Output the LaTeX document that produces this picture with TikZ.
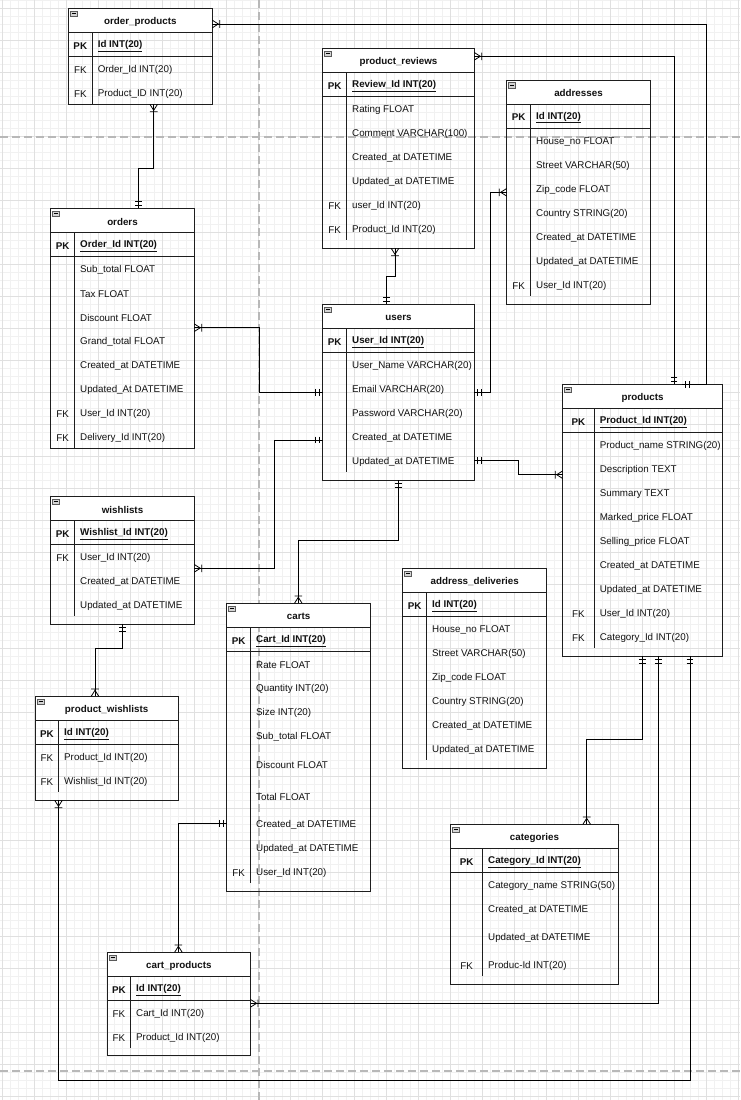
\documentclass[tikz,border=0pt]{standalone}
\usepackage{fontspec}
\setmainfont{Liberation Sans}
\usetikzlibrary{decorations.markings}

\definecolor{linec}{HTML}{1E1E1E}
\definecolor{txt}{HTML}{111111}
\definecolor{gminor}{HTML}{F1F1F1}
\definecolor{gmajor}{HTML}{E0E0E0}
\definecolor{pgline}{HTML}{B8B8B8}
\definecolor{iconfill}{HTML}{D4D4D4}
\definecolor{iconline}{HTML}{5A5A5A}

\tikzset{
  every node/.style={font=\fontsize{9.8}{11.5}\selectfont, text=txt},
  tbl/.style={draw=linec, line width=.8pt, inner sep=0pt, outer sep=0pt, anchor=north west},
  tline/.style={draw=linec, line width=.8pt},
  icon/.style={draw=iconline, fill=iconfill, line width=.5pt},
  ttl/.style={inner sep=0pt, anchor=center, yshift=-1pt},
  keyt/.style={inner sep=0pt, anchor=center, yshift=-1.5pt},
  fldt/.style={inner sep=0pt, anchor=west, yshift=-1.5pt},
  minorg/.style={draw=gminor, line width=.6pt},
  majorg/.style={draw=gmajor, line width=.8pt},
  pagebreak/.style={draw=pgline, line width=1.4pt, dash pattern=on 8pt off 4pt},
  % connector: mandatory-one bars at the start, one-to-many crow's foot at the end
  rel/.style={draw=black, line width=.8pt,
    postaction={decorate, decoration={markings,
      mark=at position 0 with {\draw[line width=.8pt] (3.2pt,-3.4pt) -- (3.2pt,3.4pt) (7.4pt,-3.4pt) -- (7.4pt,3.4pt);},
      mark=at position 1 with {\draw[line width=.8pt] (0pt,3.8pt) -- (-6pt,0pt) -- (0pt,-3.8pt) (-7.4pt,-3.8pt) -- (-7.4pt,3.8pt);}}}},
}

% #1 id, #2 left, #3 top, #4 right, #5 bottom, #6 divider x, #7 divider end, #8 title, #9 primary key
\newcommand\ertable[9]{%
  \fill[white] (#2,#3) rectangle (#4,#3+24);
  \node[tbl, minimum width={#4-#2}, minimum height={#5-#3}] (#1) at (#2,#3) {};
  \draw[tline] (#2,#3+24) -- (#4,#3+24) (#2,#3+48) -- (#4,#3+48) (#6,#3+24) -- (#6,#7);
  \draw[icon] (#2+2,#3+2.5) rectangle (#2+9,#3+8);
  \draw[line width=.7pt, black] (#2+3.5,#3+5.25) -- (#2+7.5,#3+5.25);
  \node[ttl] (#1-t) at ({(#2+#4)/2},#3+12.4) {\textbf{#8}};
  \node[keyt] (#1-pkk) at ({(#2+#6)/2},#3+36) {\textbf{PK}};
  \node[fldt] (#1-pk) at (#6+5.3,#3+36) {\underline{\textbf{#9}}};
}
% field row: #1 name, #2 divider x, #3 y, #4 text
\newcommand\errow[4]{\node[fldt] (#1) at (#2+5.3,#3) {#4};}
% key label: #1 name, #2 centre x, #3 y, #4 text
\newcommand\erkey[4]{\node[keyt] (#1) at (#2,#3) {#4};}

\begin{document}
\begin{tikzpicture}[x=1pt,y=-1pt]
\useasboundingbox (0,0) rectangle (740,1100);
\fill[white] (0,0) rectangle (740,1100);

% background grid
\foreach \i in {0,...,92} \draw[minorg] ({2+8*\i},0) -- ({2+8*\i},1100);
\foreach \j in {0,...,137} \draw[minorg] (0,{8*\j}) -- (740,{8*\j});
\foreach \i in {0,...,23} \draw[majorg] ({2+32*\i},0) -- ({2+32*\i},1100);
\foreach \j in {0,...,34} \draw[majorg] (0,{8+32*\j}) -- (740,{8+32*\j});

% page breaks
\draw[pagebreak] (0,137) -- (740,137);
\draw[pagebreak] (0,1071) -- (740,1071);
\draw[pagebreak] (259,0) -- (259,1100);

% order_products
\ertable{op}{68.3}{8.3}{212.3}{104.3}{92.3}{104.3}{order\_products}{Id INT(20)}
\erkey{op-k1}{80.3}{68.3}{FK}\errow{op-f1}{92.3}{68.3}{Order\_Id INT(20)}
\erkey{op-k2}{80.3}{92.3}{FK}\errow{op-f2}{92.3}{92.3}{Product\_ID INT(20)}

% product_reviews
\ertable{pr}{322.7}{48.3}{474.3}{248.3}{346.7}{240.3}{product\_reviews}{Review\_Id INT(20)}
\errow{pr-f1}{346.7}{108.3}{Rating FLOAT}
\errow{pr-f2}{346.7}{132.3}{Comment VARCHAR(100)}
\errow{pr-f3}{346.7}{156.3}{Created\_at DATETIME}
\errow{pr-f4}{346.7}{180.3}{Updated\_at DATETIME}
\erkey{pr-k5}{334.7}{204.3}{FK}\errow{pr-f5}{346.7}{204.3}{user\_Id INT(20)}
\erkey{pr-k6}{334.7}{228.3}{FK}\errow{pr-f6}{346.7}{228.3}{Product\_Id INT(20)}

% addresses
\ertable{ad}{506.7}{80}{650.3}{304}{530.7}{296}{addresses}{Id INT(20)}
\errow{ad-f1}{530.7}{140.3}{House\_no FLOAT}
\errow{ad-f2}{530.7}{164.3}{Street VARCHAR(50)}
\errow{ad-f3}{530.7}{188.3}{Zip\_code FLOAT}
\errow{ad-f4}{530.7}{212.3}{Country STRING(20)}
\errow{ad-f5}{530.7}{236.3}{Created\_at DATETIME}
\errow{ad-f6}{530.7}{260.3}{Updated\_at DATETIME}
\erkey{ad-k7}{518.7}{284.3}{FK}\errow{ad-f7}{530.7}{284.3}{User\_Id INT(20)}

% orders
\ertable{or}{50.7}{208.3}{194.3}{448.3}{74.7}{448.3}{orders}{Order\_Id INT(20)}
\errow{or-f1}{74.7}{268.3}{Sub\_total FLOAT}
\errow{or-f2}{74.7}{292.3}{Tax FLOAT}
\errow{or-f3}{74.7}{316.3}{Discount FLOAT}
\errow{or-f4}{74.7}{340.3}{Grand\_total FLOAT}
\errow{or-f5}{74.7}{364.3}{Created\_at DATETIME}
\errow{or-f6}{74.7}{388.3}{Updated\_At DATETIME}
\erkey{or-k7}{62.7}{412.3}{FK}\errow{or-f7}{74.7}{412.3}{User\_Id INT(20)}
\erkey{or-k8}{62.7}{436.3}{FK}\errow{or-f8}{74.7}{436.3}{Delivery\_Id INT(20)}

% users
\ertable{us}{322.7}{304.3}{474.3}{480.3}{346.7}{472.3}{users}{User\_Id INT(20)}
\errow{us-f1}{346.7}{364.3}{User\_Name VARCHAR(20)}
\errow{us-f2}{346.7}{388.3}{Email VARCHAR(20)}
\errow{us-f3}{346.7}{412.3}{Password VARCHAR(20)}
\errow{us-f4}{346.7}{436.3}{Created\_at DATETIME}
\errow{us-f5}{346.7}{460.3}{Updated\_at DATETIME}

% products
\ertable{pd}{562.7}{384.3}{722.3}{656.3}{594.3}{648.3}{products}{Product\_Id INT(20)}
\errow{pd-f1}{594.3}{444.3}{Product\_name STRING(20)}
\errow{pd-f2}{594.3}{468.3}{Description TEXT}
\errow{pd-f3}{594.3}{492.3}{Summary TEXT}
\errow{pd-f4}{594.3}{516.3}{Marked\_price FLOAT}
\errow{pd-f5}{594.3}{540.3}{Selling\_price FLOAT}
\errow{pd-f6}{594.3}{564.3}{Created\_at DATETIME}
\errow{pd-f7}{594.3}{588.3}{Updated\_at DATETIME}
\erkey{pd-k8}{578.5}{612.3}{FK}\errow{pd-f8}{594.3}{612.3}{User\_Id INT(20)}
\erkey{pd-k9}{578.5}{636.3}{FK}\errow{pd-f9}{594.3}{636.3}{Category\_Id INT(20)}

% wishlists
\ertable{wl}{50.7}{496.3}{194.3}{624.3}{74.7}{616.3}{wishlists}{Wishlist\_Id INT(20)}
\erkey{wl-k1}{62.7}{556.3}{FK}\errow{wl-f1}{74.7}{556.3}{User\_Id INT(20)}
\errow{wl-f2}{74.7}{580.3}{Created\_at DATETIME}
\errow{wl-f3}{74.7}{604.3}{Updated\_at DATETIME}

% product_wishlists
\ertable{pw}{35}{696.3}{178.3}{800.3}{58.7}{792.3}{product\_wishlists}{Id INT(20)}
\erkey{pw-k1}{46.9}{756.3}{FK}\errow{pw-f1}{58.7}{756.3}{Product\_Id INT(20)}
\erkey{pw-k2}{46.9}{780.3}{FK}\errow{pw-f2}{58.7}{780.3}{Wishlist\_Id INT(20)}

% carts
\ertable{ca}{226.7}{603.3}{370.7}{891.7}{250.7}{883}{carts}{Cart\_Id INT(20)}
\errow{ca-f1}{250.7}{663.5}{Rate FLOAT}
\errow{ca-f2}{250.7}{687.5}{Quantity INT(20)}
\errow{ca-f3}{250.7}{711.5}{Size INT(20)}
\errow{ca-f4}{250.7}{735.5}{Sub\_total FLOAT}
\errow{ca-f5}{250.7}{763.3}{Discount FLOAT}
\errow{ca-f6}{250.7}{795}{Total FLOAT}
\errow{ca-f7}{250.7}{823.3}{Created\_at DATETIME}
\errow{ca-f8}{250.7}{847.3}{Updated\_at DATETIME}
\erkey{ca-k9}{238.7}{871.5}{FK}\errow{ca-f9}{250.7}{871.5}{User\_Id INT(20)}

% address_deliveries
\ertable{dl}{402.7}{568.3}{546.7}{768.3}{426.7}{760.3}{address\_deliveries}{Id INT(20)}
\errow{dl-f1}{426.7}{628.3}{House\_no FLOAT}
\errow{dl-f2}{426.7}{652.3}{Street VARCHAR(50)}
\errow{dl-f3}{426.7}{676.3}{Zip\_code FLOAT}
\errow{dl-f4}{426.7}{700.3}{Country STRING(20)}
\errow{dl-f5}{426.7}{724.3}{Created\_at DATETIME}
\errow{dl-f6}{426.7}{748.3}{Updated\_at DATETIME}

% categories
\ertable{cg}{450.7}{824.3}{618.3}{984.3}{482.7}{976}{categories}{Category\_Id INT(20)}
\errow{cg-f1}{482.7}{884.3}{Category\_name STRING(50)}
\errow{cg-f2}{482.7}{908.3}{Created\_at DATETIME}
\errow{cg-f3}{482.7}{936}{Updated\_at DATETIME}
\erkey{cg-k4}{466.7}{964.3}{FK}\errow{cg-f4}{482.7}{964.3}{Produc-Id INT(20)}

% cart_products
\ertable{cp}{107.1}{952.3}{250.6}{1055.7}{130.7}{1048}{cart\_products}{Id INT(20)}
\erkey{cp-k1}{118.9}{1012.3}{FK}\errow{cp-f1}{130.7}{1012.3}{Cart\_Id INT(20)}
\erkey{cp-k2}{118.9}{1036.3}{FK}\errow{cp-f2}{130.7}{1036.3}{Product\_Id INT(20)}

% relationships (drawn from the "one" side to the "many" side)
\draw[rel] (or.north -| 138.3,0) |- (153.7,168.3) -- (op.south -| 153.7,0);
\draw[rel] (pd.north -| 682,0) -- (706.7,384.3) -- (706.7,24) -- (op.east |- 0,24);
\draw[rel] (pd.north -| 674,0) |- (pr.east |- 0,56.3);
\draw[rel] (us.north -| 386.7,0) |- (395,276) -- (pr.south -| 395,0);
\draw[rel] (us.east |- 0,392.3) -| (490,192.3) -- (ad.west |- 0,192.3);
\draw[rel] (us.west |- 0,392.3) -| (259,327.7) -- (or.east |- 0,327.7);
\draw[rel] (us.west |- 0,440) -| (274,568.3) -- (wl.east |- 0,568.3);
\draw[rel] (us.east |- 0,460.3) -| (518.5,474.7) -- (pd.west |- 0,474.7);
\draw[rel] (us.south -| 398.3,0) |- (298.3,540.5) -- (ca.north -| 298.3,0);
\draw[rel] (wl.south -| 122.7,0) |- (95,648.3) -- (pw.north -| 95,0);
\draw[rel] (ca.west |- 0,823.3) -| (cp.north -| 178.4,0);
\draw[rel] (pd.south -| 642.3,0) |- (586.7,739.3) -- (cg.north -| 586.7,0);
\draw[rel] (pd.south -| 658.3,0) |- (cp.east |- 0,1003.3);
\draw[rel] (pd.south -| 690,0) |- (58.5,1080) -- (pw.south -| 58.5,0);
\end{tikzpicture}
\end{document}
